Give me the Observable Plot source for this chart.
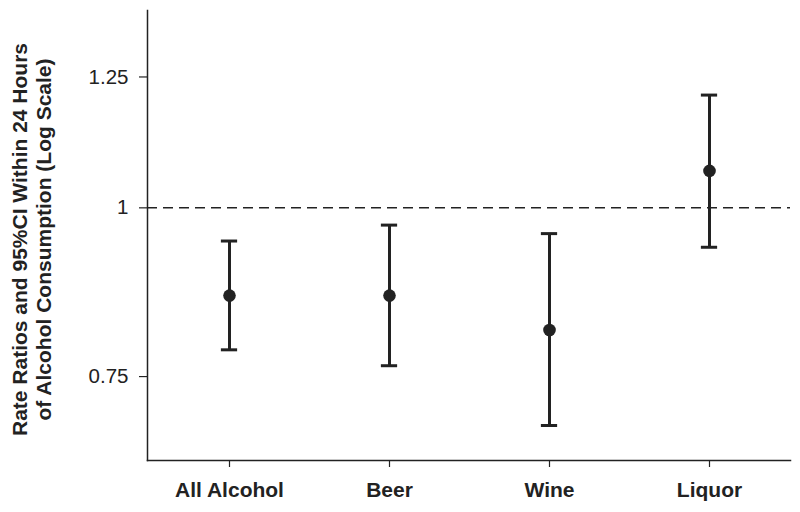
<!DOCTYPE html>
<html>
<head>
<meta charset="utf-8">
<script src="https://cdn.jsdelivr.net/npm/d3@7"></script>
<script src="https://cdn.jsdelivr.net/npm/@observablehq/plot@0.6"></script>
<style>
  html, body { margin: 0; padding: 0; background: #fff; }
  #chart { width: 800px; height: 512px; }
</style>
</head>
<body>
<div id="chart"></div>
<script>
const categories = ["All Alcohol", "Beer", "Wine", "Liquor"];
const rateRatio = [0.861, 0.861, 0.812, 1.065];
const ciLower = [0.785, 0.764, 0.690, 0.935];
const ciUpper = [0.945, 0.971, 0.957, 1.212];
const yTicks = [0.75, 1, 1.25];
const yLabel = "Rate Ratios and 95%CI Within 24 Hours\nof Alcohol Consumption (Log Scale)";

const data = categories.map((c, i) => ({cat: c, rr: rateRatio[i], lo: ciLower[i], hi: ciUpper[i]}));

const ink = "#222";
const W = 800, H = 512, ML = 147, MR = 10;
const bandwidth = (W - ML - MR) / categories.length;
const capHalf = 8.5;
const capInset = bandwidth / 2 - capHalf;

const chart = Plot.plot({
  width: W,
  height: H,
  marginLeft: ML,
  marginRight: MR,
  marginTop: 10,
  marginBottom: 52,
  style: {fontFamily: "'Liberation Sans', Arial, sans-serif", fontSize: "20px", color: ink, background: "#fff"},
  x: {type: "band", domain: categories, padding: 0, label: null},
  y: {type: "log", domain: [0.65, 1.40], label: null},
  marks: [
    Plot.ruleY([1], {stroke: ink, strokeWidth: 1.5, strokeDasharray: "10,6"}),
    Plot.ruleX(data, {x: "cat", y1: "lo", y2: "hi", stroke: ink, strokeWidth: 3}),
    Plot.tickY(data, {x: "cat", y: "hi", stroke: ink, strokeWidth: 3, insetLeft: capInset, insetRight: capInset}),
    Plot.tickY(data, {x: "cat", y: "lo", stroke: ink, strokeWidth: 3, insetLeft: capInset, insetRight: capInset}),
    Plot.dot(data, {x: "cat", y: "rr", r: 6.3, fill: ink, stroke: "none"}),
    Plot.frame({anchor: "left", stroke: ink, strokeWidth: 1.5}),
    Plot.frame({anchor: "bottom", stroke: ink, strokeWidth: 1.5}),
    Plot.axisY({ticks: yTicks, tickFormat: d => String(d), tickSize: 8, tickPadding: 11, fontSize: 20.5, label: null, stroke: ink, strokeWidth: 1.2}),
    Plot.axisX({tickSize: 7, tickPadding: 15, fontSize: 21, fontWeight: "bold", label: null, stroke: ink, strokeWidth: 1.2}),
    Plot.text([yLabel], {frameAnchor: "left", text: d => d, rotate: -90, dx: -116, dy: 4, fontSize: 21, fontWeight: "bold", textAnchor: "middle", lineHeight: 1.14, fill: ink})
  ]
});
document.getElementById("chart").appendChild(chart);
</script>
</body>
</html>
